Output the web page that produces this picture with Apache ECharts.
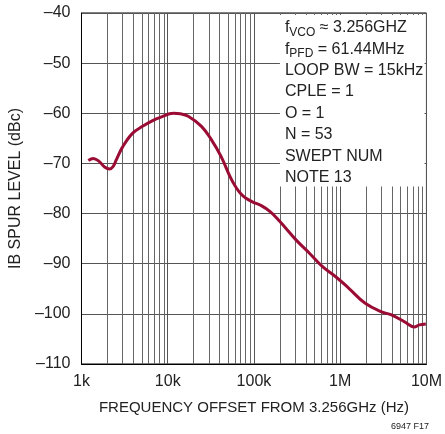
<!DOCTYPE html>
<html>
<head>
<meta charset="utf-8">
<script src="https://cdn.jsdelivr.net/npm/echarts@6/dist/echarts.min.js"></script>
<style>
html,body{margin:0;padding:0;background:#fff;}
#chart{width:445px;height:434px;}
</style>
</head>
<body>
<div id="chart"></div>
<script>
// Data
const freqHz = [1200,1370,1600,1850,2120,2350,2530,3000,3900,5100,6600,8200,11700,14000,17300,24600,31900,41500,54000,62000,70000,80000,100000,118000,154000,200000,309000,440000,624000,887000,1260000,1950000,3020000,3930000,5580000,7250000,8260000,9840000];
const spurDbc = [-69.4,-69.0,-69.6,-70.7,-71.1,-70.5,-69.3,-66.7,-64.0,-62.6,-61.5,-60.8,-60.0,-60.1,-60.6,-62.6,-65.2,-68.6,-73.0,-74.8,-76.0,-76.9,-77.8,-78.3,-79.6,-81.6,-85.3,-87.9,-90.6,-92.6,-94.9,-97.9,-99.6,-100.2,-101.6,-102.6,-102.2,-102.0];
const xTickValues = [1000,10000,100000,1000000,10000000];
const xTickLabels = ['1k','10k','100k','1M','10M'];
const yTickValues = [-110,-100,-90,-80,-70,-60,-50,-40];
const yTickLabels = ['–110','–100','–90','–80','–70','–60','–50','–40'];
const noteLines = ['LOOP BW = 15kHz','CPLE = 1','O = 1','N = 53','SWEPT NUM','NOTE 13'];

const FONT = '"Liberation Sans", Arial, sans-serif';
const gridFreqs = [];
for (let d = 1000; d < 10000000; d *= 10) {
  for (let m = 2; m <= 9; m++) gridFreqs.push(d * m);
}
const chart = echarts.init(document.getElementById('chart'), null, {renderer:'canvas'});
const option = {
  animation: false,
  backgroundColor: '#fff',
  grid: {left:78, right:16, top:13, bottom:70, show:true, borderColor:'#000', borderWidth:1, backgroundColor:'transparent'},
  xAxis: {
    type:'log', logBase:10, min:1000, max:10000000,
    name:'FREQUENCY OFFSET FROM 3.256GHz (Hz)', nameLocation:'middle', nameGap:36,
    nameTextStyle:{fontFamily:FONT, fontSize:15, color:'#222'},
    axisLine:{show:true, lineStyle:{color:'#000', width:1}},
    axisTick:{show:false},
    axisLabel:{fontFamily:FONT, fontSize:16, color:'#222', margin:10, showMinLabel:true, showMaxLabel:true,
      formatter:function(v){const i = xTickValues.findIndex(t=>Math.abs(t-v)/t<1e-6); return i>=0?xTickLabels[i]:'';}},
    splitLine:{show:true, lineStyle:{color:'#555', width:1}}
  },
  yAxis: {
    type:'value', min:-110, max:-40, interval:10,
    name:'IB SPUR LEVEL (dBc)', nameLocation:'middle', nameGap:52, nameRotate:90,
    nameTextStyle:{fontFamily:FONT, fontSize:16, color:'#222'},
    axisLine:{show:true, lineStyle:{color:'#000', width:1}},
    axisTick:{show:false},
    axisLabel:{fontFamily:FONT, fontSize:16, color:'#222', margin:11,
      formatter:function(v){const i = yTickValues.indexOf(v); return i>=0?yTickLabels[i]:'';}},
    splitLine:{show:true, lineStyle:{color:'#555', width:1}}
  },
  series: [
    {
      type:'line', data:[], z:1, silent:true,
      markLine:{z:1, silent:true, symbol:['none','none'], label:{show:false}, animation:false,
        lineStyle:{color:'#666', width:1, type:'solid'},
        data: gridFreqs.map(f=>({xAxis:f}))}
    },
    {
      type:'line', data:[], z:8, silent:true,
      markArea:{z:8, silent:true, animation:false,
        itemStyle:{color:'#ffffff', opacity:1, borderWidth:0},
        label:{show:true, position:'insideTopLeft', distance:0, padding:[2,0,0,5],
          fontFamily:FONT, fontSize:16, color:'#222', lineHeight:21.4,
          formatter: '{a|f}{s|VCO}{a| ≈ 3.256GHZ}\n{a|f}{s|PFD}{a| = 61.44MHz}\n' + noteLines.map(t=>'{a|'+t+'}').join('\n'),
          rich:{
            a:{fontFamily:FONT, fontSize:16, color:'#222', lineHeight:21.4},
            s:{fontFamily:FONT, fontSize:12, color:'#222', lineHeight:12, verticalAlign:'bottom'}
          }},
        emphasis:{disabled:true},
        data:[[{xAxis:200000, yAxis:-40.4},{xAxis:9500000, yAxis:-74.6}]]}
    },
    {
      type:'line', z:20, smooth:0.4, showSymbol:false, silent:true,
      data: freqHz.map((f,i)=>[f, spurDbc[i]]),
      lineStyle:{color:'#9b0c34', width:3}
    }
  ],
  graphic:[{type:'text', right:16, top:422, style:{text:'6947 F17', fontFamily:FONT, fontSize:9, fill:'#222'}}]
};
chart.setOption(option);
</script>
</body>
</html>
